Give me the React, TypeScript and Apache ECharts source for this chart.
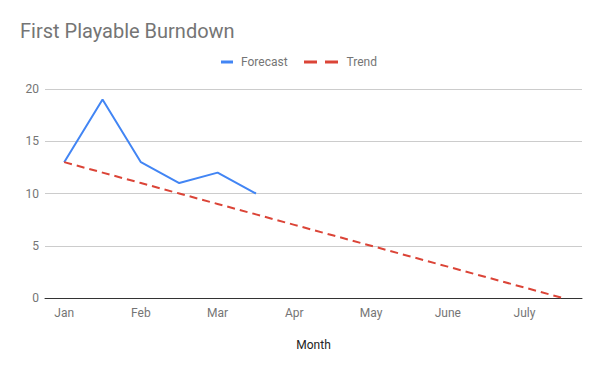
import React, { useEffect, useRef } from "react";
import * as echarts from "echarts";

const categories = [
  "Jan", "Mid Jan", "Feb", "Mid Feb", "Mar", "Mid Mar", "Apr",
  "Mid Apr", "May", "Mid May", "June", "Mid June", "July", "Mid July",
];
const forecast: (number | null)[] = [13, 19, 13, 11, 12, 10, null, null, null, null, null, null, null, null];
const trend = [13, 12, 11, 10, 9, 8, 7, 6, 5, 4, 3, 2, 1, 0];
const yTicks = { min: 0, max: 20, interval: 5 };

export default function App() {
  const ref = useRef<HTMLDivElement>(null);
  useEffect(() => {
    if (!ref.current) return;
    const chart = echarts.init(ref.current, undefined, { renderer: "svg" });
    const font = "Roboto, Arial, sans-serif";
    chart.setOption({
      animation: false,
      title: {
        text: "First Playable Burndown",
        left: 15,
        top: 16,
        textStyle: { fontFamily: font, fontSize: 20, fontWeight: "normal", color: "#757575" },
      },
      legend: [
        {
          data: [{ name: "Forecast", icon: "rect" }],
          left: 216,
          top: 51,
          itemWidth: 12,
          itemHeight: 3,
          textStyle: { fontFamily: font, fontSize: 12, color: "#757575", padding: [0, 0, 0, 3] },
        },
        {
          data: [{ name: "Trend", icon: "path://M0,0h13v3h-13z M21,0h13v3h-13z" }],
          left: 299,
          top: 51,
          itemWidth: 35,
          itemHeight: 3,
          textStyle: { fontFamily: font, fontSize: 12, color: "#757575", padding: [0, 0, 0, 3] },
        },
      ],
      grid: { left: 45, right: 18, top: 89, bottom: 73 },
      xAxis: {
        type: "category",
        data: categories,
        boundaryGap: true,
        name: "Month",
        nameLocation: "middle",
        nameGap: 41,
        nameTextStyle: { fontFamily: font, fontSize: 12, color: "#222" },
        axisLine: { lineStyle: { color: "#333", width: 1 } },
        axisTick: { show: false },
        axisLabel: { interval: 1, fontFamily: font, fontSize: 12, color: "#757575", margin: 9 },
      },
      yAxis: {
        type: "value",
        min: yTicks.min,
        max: yTicks.max,
        interval: yTicks.interval,
        axisLine: { show: false },
        axisTick: { show: false },
        axisLabel: { fontFamily: font, fontSize: 12, color: "#757575", margin: 6 },
        splitLine: { lineStyle: { color: "#cccccc" } },
      },
      series: [
        {
          name: "Forecast",
          type: "line",
          data: forecast,
          showSymbol: false,
          symbol: "none",
          lineStyle: { color: "#4285F4", width: 2 },
          itemStyle: { color: "#4285F4" },
        },
        {
          name: "Trend",
          type: "line",
          data: trend,
          showSymbol: false,
          symbol: "none",
          lineStyle: { color: "#DB4437", width: 2, type: [8, 5] },
          itemStyle: { color: "#DB4437" },
        },
      ],
    });
    return () => chart.dispose();
  }, []);
  return <div ref={ref} style={{ width: 600, height: 371, position: "absolute", left: 0, top: 0 }} />;
}
